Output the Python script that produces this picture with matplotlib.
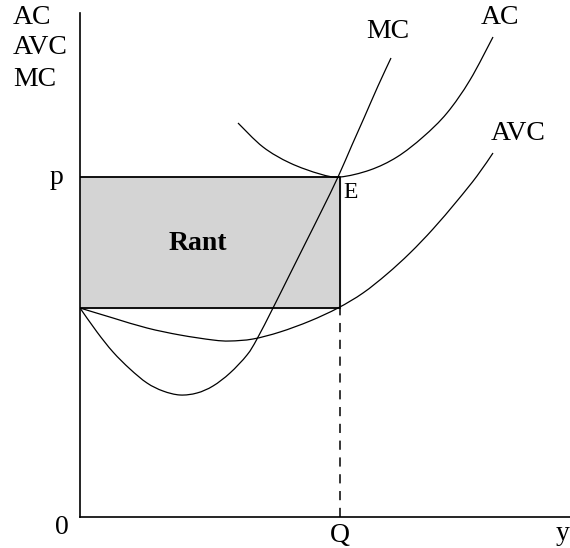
import matplotlib.pyplot as plt
from matplotlib.path import Path
from matplotlib.patches import PathPatch

# values (x: output, y: cost), in picture units
Q = 260
p = 340
avc_q = 209   # AVC at Q (bottom of the rectangle)

mc_x = [0, 17, 33, 50, 67, 83, 100, 117, 133, 150, 167, 177, 193, 210, 226, 242, 258, 272, 284, 298, 311]
mc_y = [209, 185, 165, 148, 134, 126, 122, 124, 131, 144, 162, 178, 209, 243, 275, 307, 340, 372, 399, 431, 459]

avc_x = [0, 33, 67, 100, 133, 150, 173, 200, 230, 258, 283, 307, 330, 353, 377, 397, 413]
avc_y = [209, 199, 189, 182, 177, 176, 178, 185, 196, 209, 224, 243, 264, 288, 316, 341, 364]

ac_x = [158, 183, 210, 240, 260, 290, 317, 343, 367, 390, 413]
ac_y = [394, 370, 354, 343, 340, 347, 360, 380, 404, 437, 480]


def smooth_curve(ax, xs, ys, **kw):
    """draw a smooth line through the points (Catmull-Rom as cubic Bezier)"""
    pts = list(zip(xs, ys))
    verts = [pts[0]]
    codes = [Path.MOVETO]
    for i in range(len(pts) - 1):
        p0 = pts[i - 1] if i > 0 else pts[i]
        p1 = pts[i]
        p2 = pts[i + 1]
        p3 = pts[i + 2] if i + 2 < len(pts) else pts[i + 1]
        c1 = (p1[0] + (p2[0] - p0[0]) / 6, p1[1] + (p2[1] - p0[1]) / 6)
        c2 = (p2[0] - (p3[0] - p1[0]) / 6, p2[1] - (p3[1] - p1[1]) / 6)
        verts += [c1, c2, p2]
        codes += [Path.CURVE4] * 3
    ax.add_patch(PathPatch(Path(verts, codes), fill=False, **kw))


plt.rcParams['font.family'] = ['Liberation Serif', 'DejaVu Serif']

fig = plt.figure(figsize=(5.7, 5.48), dpi=100)
ax = fig.add_axes([80 / 570, 31 / 548, 490 / 570, 504 / 548])
ax.set_xlim(0, 490)
ax.set_ylim(0, 504)

# rent rectangle
ax.fill_between([0, Q], avc_q, p, color='#d4d4d4', zorder=1)
ax.plot([0, Q, Q, 0], [p, p, avc_q, avc_q], color='black', lw=1.3, zorder=2)
ax.plot([Q, Q], [0, avc_q], color='black', lw=1.1, ls=(0, (6, 5)), zorder=2)

smooth_curve(ax, mc_x, mc_y, color='black', lw=0.9, zorder=3)
smooth_curve(ax, avc_x, avc_y, color='black', lw=0.9, zorder=3)
smooth_curve(ax, ac_x, ac_y, color='black', lw=0.9, zorder=3)

ax.spines['top'].set_visible(False)
ax.spines['right'].set_visible(False)
ax.spines['left'].set_linewidth(1.2)
ax.spines['bottom'].set_linewidth(1.2)
ax.set_xticks([])
ax.set_yticks([])

fs = 20
ax.text(-67, 500, 'AC', fontsize=fs, ha='left', va='center', clip_on=False)
ax.text(-67, 470, 'AVC', fontsize=fs, ha='left', va='center', clip_on=False)
ax.text(-67, 437, 'MC', fontsize=fs, ha='left', va='center', clip_on=False)
ax.text(-23, 339, 'p', fontsize=fs, ha='center', va='center', clip_on=False)
ax.text(-18, -11, '0', fontsize=fs, ha='center', va='center', clip_on=False)
ax.text(Q, -18, 'Q', fontsize=fs, ha='center', va='center', clip_on=False)
ax.text(483, -16, 'y', fontsize=fs, ha='center', va='center', clip_on=False)
ax.text(Q + 11, 324, 'E', fontsize=17, ha='center', va='center')
ax.text(118, 274, 'Rant', fontsize=fs, fontweight='bold', ha='center', va='center')
ax.text(308, 485, 'MC', fontsize=fs, ha='center', va='center')
ax.text(420, 499, 'AC', fontsize=fs, ha='center', va='center', clip_on=False)
ax.text(438, 384, 'AVC', fontsize=fs, ha='center', va='center')

fig.savefig('out.png', dpi=100)
